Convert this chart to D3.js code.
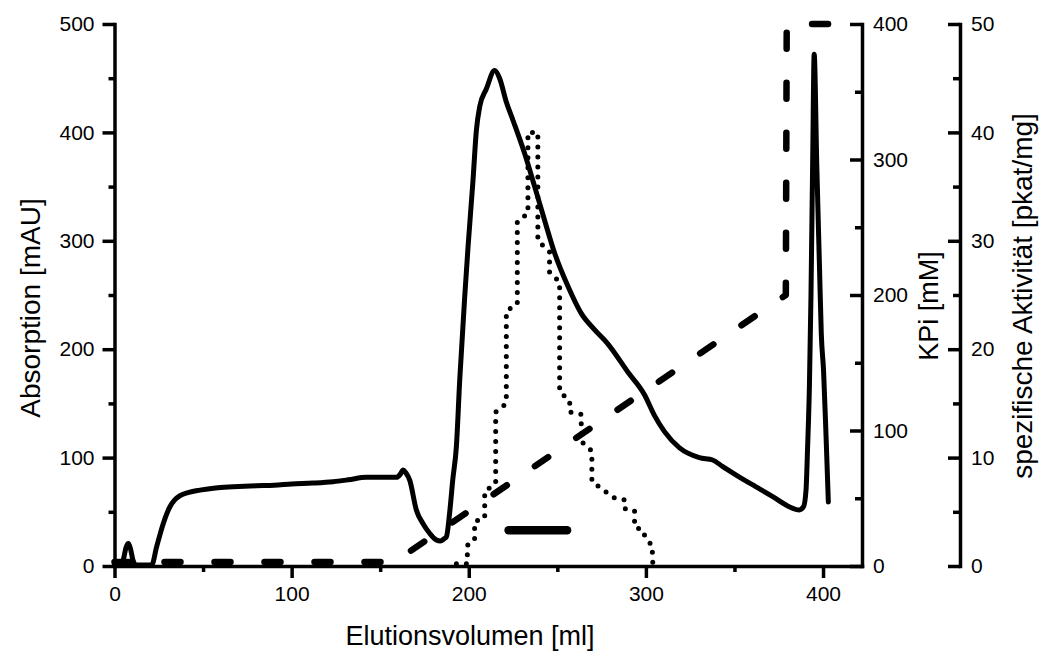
<!DOCTYPE html>
<html>
<head>
<meta charset="utf-8">
<script src="https://cdn.jsdelivr.net/npm/d3@7"></script>
<style>
  body { margin: 0; background: #fff; }
  svg text { font-family: "Liberation Sans", Arial, sans-serif; fill: #000; }
</style>
</head>
<body>
<div id="container"></div>
<script>
// absorption trace: elution volume [ml] / absorption [mAU]
const absVolume = [0, 3, 5, 6.5, 7.8, 9, 10.5, 12, 21, 23.8, 27.5, 31.3, 34, 37, 42, 48.2, 57, 67, 80, 90, 100, 112, 123.4, 132, 142.2, 150, 159.2, 161.5, 162.9, 164.5, 166.7, 170.4, 174.2, 178, 181.7, 184, 186, 187.4, 189.2, 191, 193, 194.9, 197.7, 199.6, 202.4, 204.3, 206.2, 209.9, 214.6, 217.4, 221.2, 225, 231.5, 237.2, 242.8, 248.4, 256, 263.5, 271, 278.5, 289.8, 299.2, 304.8, 310.5, 319, 330.2, 337.7, 343.4, 352.8, 362.2, 371.6, 380.9, 386.6, 389, 390.4, 391.3, 392.3, 393.2, 394.2, 395, 396.5, 398, 399, 400.3, 401.7, 403];
const absValue = [1, 1, 6, 17, 21, 16, 5, 1, 1, 17.8, 39, 54.7, 61, 65, 68, 70, 72, 73, 74, 74.5, 75.6, 76.5, 77.8, 79.5, 81.8, 81.8, 81.8, 85, 88.6, 86, 79, 51.7, 39, 30, 24, 23, 25, 27, 49, 80, 110, 171.6, 248, 294.6, 356, 402, 424, 440, 457, 450, 428, 411, 380.7, 350, 319, 289, 258, 233, 218, 205, 179, 158, 139, 124, 109, 100, 97.8, 91.6, 82, 73, 64, 54.7, 51.7, 54.7, 70, 110, 165, 250, 380, 472, 368, 276, 215, 180, 120, 59];

// KPi gradient [mM]
const kpiVolume = [0, 158, 379, 379.5, 422];
const kpiValue = [3, 3, 200, 400, 400];

// specific activity [pkat/mg]
const actVolume = [193, 199.2, 199.2, 203.3, 203.3, 209, 209, 215.2, 215.2, 221.2, 221.2, 227.4, 227.4, 233.4, 233.4, 239, 239, 245.6, 245.6, 251.3, 251.3, 257, 257, 263.5, 263.5, 269.5, 269.5, 276, 282, 288, 288, 293.6, 293.6, 298.5, 299.6, 303.5, 303.9];
const actValue = [0.2, 0.2, 1.9, 2.4, 4.1, 4.4, 6.9, 7.6, 14.2, 15.0, 23.5, 24.2, 31.8, 32.5, 40, 40, 30, 29, 27.1, 26.2, 16.1, 15.2, 14.2, 14, 11.5, 10.6, 7.8, 7.0, 6.3, 6.1, 5.3, 5.1, 3.6, 3.3, 2.6, 1.9, 0.2];

// pooled fractions bar (volume range, drawn at absorption level)
const poolVolume = [222.5, 255.5];
const poolLevel = 33;

// axis ticks
const xTicks = [0, 100, 200, 300, 400];
const xMinor = [50, 150, 250, 350];
const absTicks = [0, 100, 200, 300, 400, 500];
const absMinor = [50, 150, 250, 350, 450];
const kpiTicks = [0, 100, 200, 300, 400];
const kpiMinor = [50, 150, 250, 350];
const actTicks = [0, 10, 20, 30, 40, 50];
const actMinor = [5, 15, 25, 35, 45];

const W = 1042, H = 653;
const plotTop = 24, plotBottom = 566;
const plotLeft = 114.5, plotRight = 862, farRight = 960;

const svg = d3.create("svg")
  .attr("width", W)
  .attr("height", H);
document.getElementById("container").append(svg.node());

const x = d3.scaleLinear().domain([0, 422]).range([plotLeft, plotRight]);
const yAbs = d3.scaleLinear().domain([0, 500]).range([plotBottom, plotTop]);
const yKpi = d3.scaleLinear().domain([0, 400]).range([plotBottom, plotTop]);
const yAct = d3.scaleLinear().domain([0, 50]).range([plotBottom, plotTop]);

// axis helpers
function styleAxis(g) {
  g.attr("font-family", null).attr("font-size", null);
  g.selectAll(".domain").attr("stroke-width", 3.5).attr("stroke-linecap", "square");
  g.selectAll(".tick line").attr("stroke-width", 3.5);
  g.selectAll(".tick text").style("font-size", "21px");
}
function minor(g) {
  g.select(".domain").remove();
  g.selectAll(".tick line").attr("stroke-width", 3.5);
}

// bottom axis
svg.append("g")
  .attr("transform", `translate(0,${plotBottom})`)
  .call(d3.axisBottom(x).tickValues(xTicks).tickSize(12).tickSizeOuter(0).tickPadding(8))
  .call(styleAxis);
svg.append("g")
  .attr("transform", `translate(0,${plotBottom})`)
  .call(d3.axisBottom(x).tickValues(xMinor).tickSize(6).tickFormat(""))
  .call(minor);

// left axis
svg.append("g")
  .attr("transform", `translate(${plotLeft},0)`)
  .call(d3.axisLeft(yAbs).tickValues(absTicks).tickSize(12).tickSizeOuter(0).tickPadding(8))
  .call(styleAxis);
svg.append("g")
  .attr("transform", `translate(${plotLeft},0)`)
  .call(d3.axisLeft(yAbs).tickValues(absMinor).tickSize(6).tickFormat(""))
  .call(minor);

// KPi axis (ticks inward)
svg.append("g")
  .attr("transform", `translate(${plotRight},0)`)
  .call(d3.axisRight(yKpi).tickValues(kpiTicks).tickSizeInner(-12).tickSizeOuter(0).tickPadding(11))
  .call(styleAxis);
svg.append("g")
  .attr("transform", `translate(${plotRight},0)`)
  .call(d3.axisRight(yKpi).tickValues(kpiMinor).tickSizeInner(-7).tickSizeOuter(0).tickFormat(""))
  .call(minor);

// specific activity axis
svg.append("g")
  .attr("transform", `translate(${farRight},0)`)
  .call(d3.axisRight(yAct).tickValues(actTicks).tickSizeInner(-12).tickSizeOuter(0).tickPadding(11))
  .call(styleAxis);
svg.append("g")
  .attr("transform", `translate(${farRight},0)`)
  .call(d3.axisRight(yAct).tickValues(actMinor).tickSizeInner(-7).tickSizeOuter(0).tickFormat(""))
  .call(minor);

// KPi dashed gradient
const kpiLine = d3.line()
  .x(i => x(kpiVolume[i]))
  .y(i => yKpi(kpiValue[i]));
svg.append("path")
  .attr("d", kpiLine(d3.range(kpiVolume.length)))
  .attr("fill", "none")
  .attr("stroke", "#000")
  .attr("stroke-width", 6.5)
  .attr("stroke-linecap", "round")
  .attr("stroke-linejoin", "round")
  .attr("stroke-dasharray", "16,34");

// specific activity dotted
const actLine = d3.line()
  .x(i => x(actVolume[i]))
  .y(i => yAct(actValue[i]));
svg.append("path")
  .attr("d", actLine(d3.range(actVolume.length)))
  .attr("fill", "none")
  .attr("stroke", "#000")
  .attr("stroke-width", 5)
  .attr("stroke-linecap", "round")
  .attr("stroke-dasharray", "0,10");

// absorption solid
const absLine = d3.line()
  .x(i => x(absVolume[i]))
  .y(i => yAbs(absValue[i]))
  .curve(d3.curveMonotoneX);
svg.append("path")
  .attr("d", absLine(d3.range(absVolume.length)))
  .attr("fill", "none")
  .attr("stroke", "#000")
  .attr("stroke-width", 5)
  .attr("stroke-linejoin", "round")
  .attr("stroke-linecap", "round");

// pooled fractions
svg.append("line")
  .attr("x1", x(poolVolume[0]))
  .attr("x2", x(poolVolume[1]))
  .attr("y1", yAbs(poolLevel))
  .attr("y2", yAbs(poolLevel))
  .attr("stroke", "#000")
  .attr("stroke-width", 8.5)
  .attr("stroke-linecap", "round");

// axis titles
svg.append("text")
  .attr("x", 470)
  .attr("y", 645)
  .attr("text-anchor", "middle")
  .style("font-size", "27px")
  .text("Elutionsvolumen [ml]");

svg.append("text")
  .attr("transform", "translate(40,308) rotate(-90)")
  .attr("text-anchor", "middle")
  .style("font-size", "28px")
  .text("Absorption [mAU]");

svg.append("text")
  .attr("transform", "translate(938,306) rotate(-90)")
  .attr("text-anchor", "middle")
  .style("font-size", "27px")
  .text("KPi [mM]");

svg.append("text")
  .attr("transform", "translate(1032,296) rotate(-90)")
  .attr("text-anchor", "middle")
  .style("font-size", "28px")
  .text("spezifische Aktivität [pkat/mg]");
</script>
</body>
</html>
